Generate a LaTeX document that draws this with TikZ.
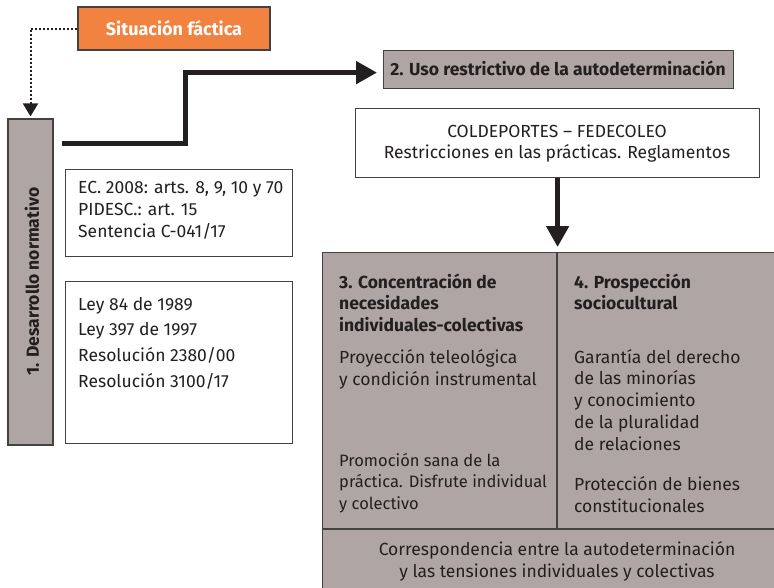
\documentclass[tikz,border=0pt]{standalone}
\usepackage{fontspec}
\setmainfont{Fira Sans}
\usetikzlibrary{arrows.meta}
\definecolor{orng}{HTML}{F28240}
\definecolor{gry}{HTML}{AFA5A4}
\definecolor{ink}{HTML}{231F20}
\newcommand\lblk[2]{\parbox[t]{#1}{\raggedright #2}}
\newcommand\cblk[2]{\parbox[t]{#1}{\centering #2}}
\newcommand\bodyfs[1]{\fontsize{17.5}{#1}\selectfont}
\tikzset{
  box/.style={draw=ink!85, line width=1.2pt, inner sep=0pt},
  txt/.style={anchor=base west, inner sep=0pt, text=ink},
  ctxt/.style={anchor=base, inner sep=0pt, text=ink},
  thick arrow/.style={draw=ink, line width=5pt, -{Triangle[length=21pt,width=22pt]}},
}
\begin{document}
\begin{tikzpicture}[x=1pt,y=-1pt]
\useasboundingbox (0,0) rectangle (774,587);
% boxes
\node[box, fill=orng, minimum width=192pt, minimum height=43pt] (sit) at (174,28.5) {};
\node[box, fill=gry, minimum width=45pt, minimum height=326pt] (dn) at (30.5,282) {};
\node[box, fill=white, minimum width=227pt, minimum height=87pt, anchor=north west] (ec) at (65,169) {};
\node[box, fill=white, minimum width=227pt, minimum height=162pt, anchor=north west] (ley) at (65,281) {};
\node[box, fill=gry, minimum width=350pt, minimum height=38pt, anchor=north west] (uso) at (383,50) {};
\node[box, fill=white, minimum width=404pt, minimum height=69pt, anchor=north west] (col) at (355,108) {};
\node[box, fill=gry, minimum width=480pt, minimum height=360pt, anchor=north west] (big) at (322,252) {};
\draw[ink!85, line width=1.2pt] (557,252) -- (557,529);
\draw[ink!85, line width=1.2pt] (322,529) -- (800,529);
% texts
\node[ctxt, text=white, font=\fontsize{18}{21}\selectfont\bfseries] (sitt) at (174,35) {Situación fáctica};
\node[inner sep=0pt, text=ink, rotate=90, font=\bodyfs{21}\bfseries] (dnt) at (32,281.5) {1. Desarrollo normativo};
\node[ctxt, font=\bodyfs{21}\bfseries] (usot) at (558,75) {2. Uso restrictivo de la autodeterminación};
\node[ctxt, font=\bodyfs{21.5}] (colt) at (557,137) {\cblk{400pt}{COLDEPORTES – FEDECOLEO\\Restricciones en las prácticas. Reglamentos}};
\node[txt, font=\bodyfs{22}] (ect) at (78,193) {\lblk{300pt}{EC. 2008: arts. 8, 9, 10 y 70\\PIDESC.: art. 15\\Sentencia C-041/17}};
\node[txt, font=\bodyfs{25.9}] (leyt) at (78,310) {\lblk{300pt}{Ley 84 de 1989\\Ley 397 de 1997\\Resolución 2380/00\\Resolución 3100/17}};
\node[txt, font=\bodyfs{21.5}\bfseries] (s3h) at (339,288) {\lblk{300pt}{3. Concentración de\\necesidades\\individuales-colectivas}};
\node[txt, font=\bodyfs{22}] (s3a) at (339,363) {\lblk{300pt}{Proyección teleológica\\y condición instrumental}};
\node[txt, font=\fontsize{16.5}{21.5}\selectfont] (s3b) at (339,466) {\lblk{300pt}{Promoción sana de la\\práctica. Disfrute individual\\y colectivo}};
\node[txt, font=\bodyfs{21.5}\bfseries] (s4h) at (574,288) {\lblk{300pt}{4. Prospección\\sociocultural}};
\node[txt, font=\bodyfs{21.75}] (s4a) at (574,363) {\lblk{300pt}{Garantía del derecho\\de las minorías\\y conocimiento\\de la pluralidad\\de relaciones}};
\node[txt, font=\bodyfs{22}] (s4b) at (574,490) {\lblk{300pt}{Protección de bienes\\constitucionales}};
\node[ctxt, font=\bodyfs{22}] (bott) at (557,555) {\cblk{440pt}{Correspondencia entre la autodeterminación\\y las tensiones individuales y colectivas}};
% connectors
\draw[ink, line width=2pt, dotted, -{Triangle[length=13pt,width=15pt]}, shorten >=2pt] (sit.west) -| (dn.north);
\coordinate (t0) at (62,143);
\coordinate (tb) at (185,143);
\draw[thick arrow, shorten >=6pt] (t0) -- (tb) |- ([yshift=-3pt]uso.west);
\draw[thick arrow, shorten >=5pt] (col.south) -- (col.south |- big.north);
\end{tikzpicture}
\end{document}
